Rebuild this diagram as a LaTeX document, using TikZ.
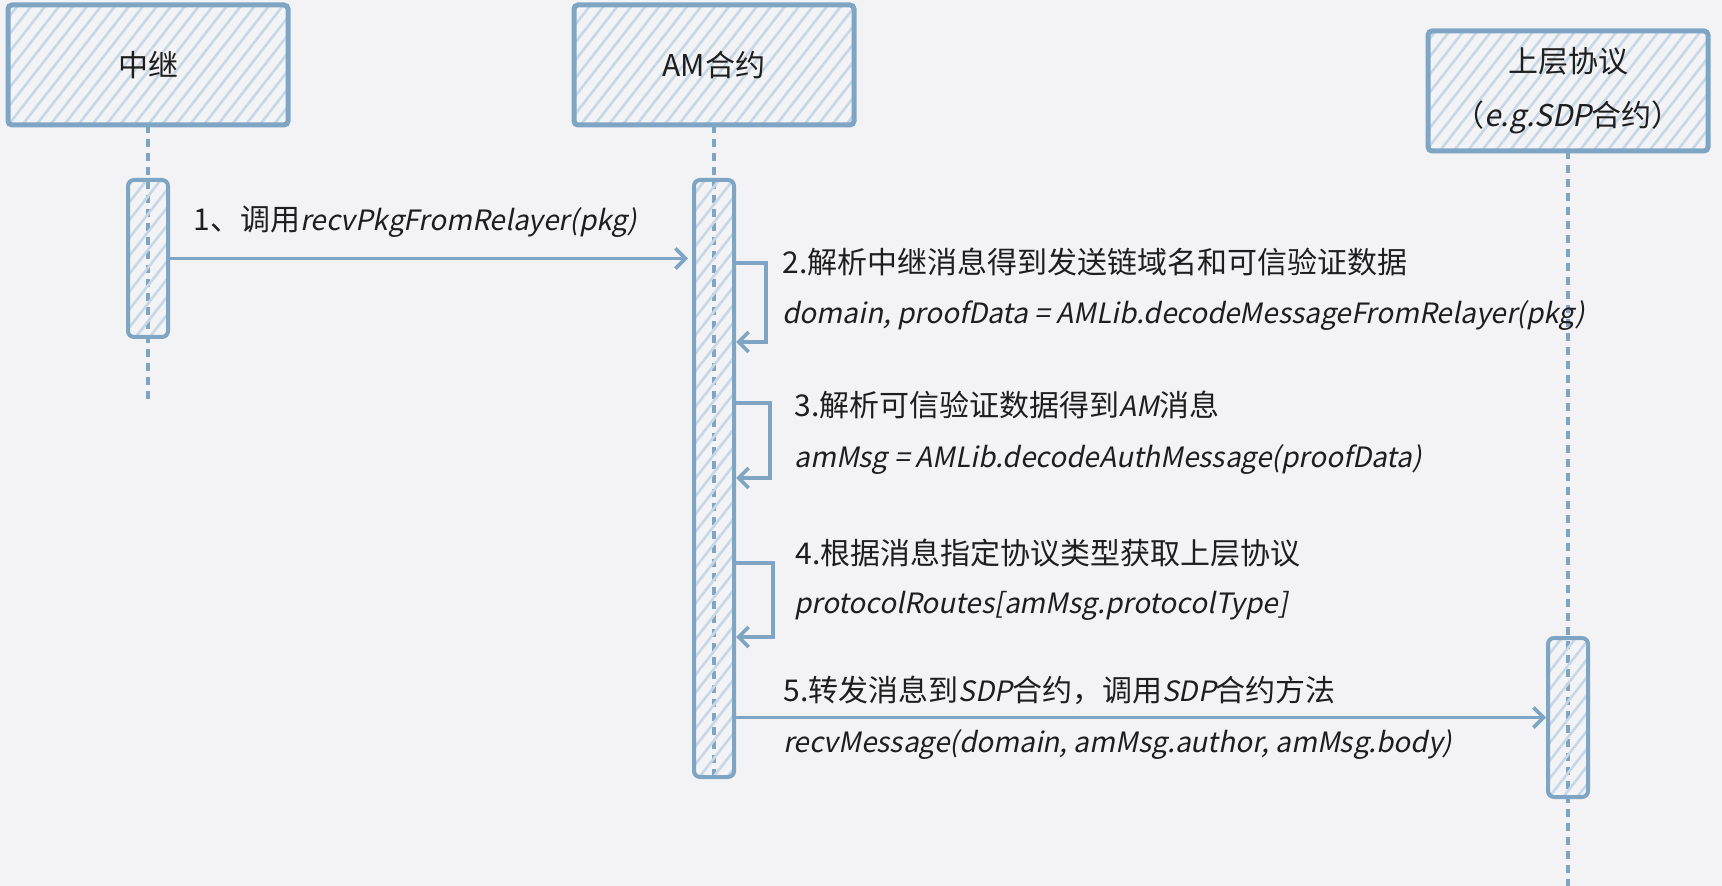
\documentclass[tikz,border=0pt]{standalone}
\usepackage{fontspec}
\setmainfont{Noto Sans CJK SC}[AutoFakeSlant=0.2]
\usetikzlibrary{arrows.meta,patterns.meta,positioning}
\definecolor{linec}{HTML}{7FA5C4}
\definecolor{hatchc}{HTML}{C6D8E7}
\definecolor{bgc}{HTML}{F3F3F5}
\definecolor{textc}{HTML}{1E1E1E}
\newcommand{\code}[1]{{\fontsize{14}{18}\selectfont\itshape #1}}
\tikzset{
  hatch/.style={pattern={Lines[angle=52,distance=5.5pt,line width=1.3pt]},pattern color=hatchc},
  actor/.style={draw=linec,line width=2.5pt,rounded corners=2pt,hatch,minimum width=140pt,minimum height=60pt,align=center,text=textc,font=\fontsize{15}{27}\selectfont},
  bar/.style={draw=linec,line width=2pt,rounded corners=3pt,hatch,minimum width=20pt,inner sep=0pt},
  life/.style={linec,line width=2pt,dash pattern=on 4pt off 3pt},
  msg/.style={linec,line width=1.8pt,-{Straight Barb[length=5pt,width=10pt]}},
  lbl/.style={anchor=west,inner sep=0pt,text=textc,font=\fontsize{15}{18}\selectfont}
}
\begin{document}
\begin{tikzpicture}[x=0.5pt,y=-0.5pt]
  \fill[bgc] (0,0) rectangle (1722,886);
  \useasboundingbox (0,0) rectangle (1722,886);
  % lifelines
  \coordinate (end1) at (148,400);
  \coordinate (end2) at (714,777);
  \coordinate (end3) at (1568,886);
  \draw[life] (148,125) -- (end1);
  \draw[life] (714,125) -- (end2);
  \draw[life] (1568,151) -- (end3);
  % participants
  \node[actor] (relay) at (148,65) {中继};
  \node[actor] (am) at (714,65) {AM合约};
  \node[actor] (sdp) at (1568,91) {上层协议\\（\textit{e.g.SDP}合约）};
  % activations
  \node[bar,minimum height=78.5pt] (bar1) at (148,258.5) {};
  \node[bar,minimum height=298.5pt] (bar2) at (714,478.5) {};
  \node[bar,minimum height=79.5pt] (bar3) at (1568,717.5) {};
  % messages
  \draw[msg,shorten >=2pt] (bar1.east) -- (bar2.west |- bar1.east);
  \node[lbl] (m1) at (193,222) {1、调用\code{recvPkgFromRelayer(pkg)}};
  \draw[msg] (bar2.east |- 0,263) -- ++(30,0) |- (bar2.east |- 0,342);
  \node[lbl] (m2a) at (782,262) {2.解析中继消息得到发送链域名和可信验证数据};
  \node[lbl] (m2b) at (782,316) {\code{domain, proofData = AMLib.decodeMessageFromRelayer(pkg)}};
  \draw[msg] (bar2.east |- 0,403) -- ++(34,0) |- (bar2.east |- 0,478);
  \node[lbl] (m3a) at (794,405) {3.解析可信验证数据得到\code{AM}消息};
  \node[lbl] (m3b) at (794,460) {\code{amMsg = AMLib.decodeAuthMessage(proofData)}};
  \draw[msg] (bar2.east |- 0,563) -- ++(37,0) |- (bar2.east |- 0,637);
  \node[lbl] (m4a) at (795,553) {4.根据消息指定协议类型获取上层协议};
  \node[lbl] (m4b) at (794,606) {\code{protocolRoutes[amMsg.protocolType]}};
  \draw[msg] (bar2.east |- bar3.west) -- (bar3.west);
  \node[lbl] (m5a) at (783,690) {5.转发消息到\code{SDP}合约，调用\code{SDP}合约方法};
  \node[lbl] (m5b) at (783,745) {\code{recvMessage(domain, amMsg.author, amMsg.body)}};
\end{tikzpicture}
\end{document}
